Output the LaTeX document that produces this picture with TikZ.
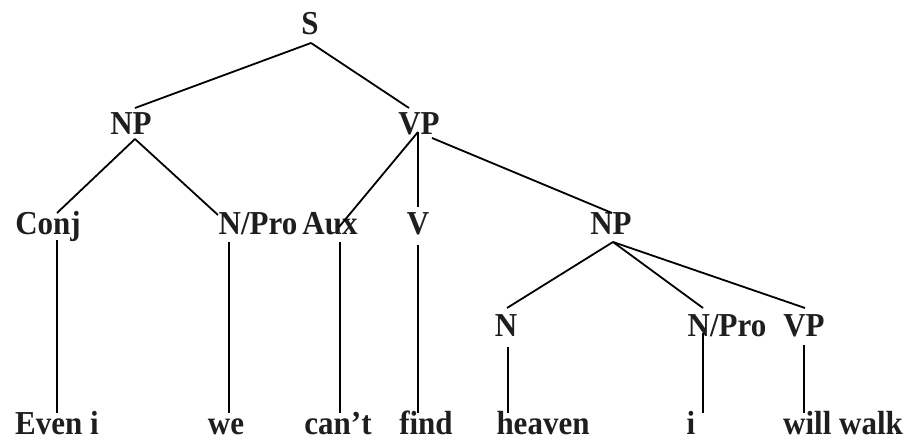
\documentclass[tikz,border=0pt]{standalone}
\usepackage{fontspec}
\setmainfont{Liberation Serif}
\usetikzlibrary{calc}
\definecolor{ink}{HTML}{1E1E1E}
\begin{document}
\begin{tikzpicture}[x=1pt,y=-1pt,
  lbl/.style={anchor=base, inner sep=0pt, outer sep=0pt, text=ink,
    yscale=1.08, transform shape,
    font=\fontsize{31}{31}\selectfont\bfseries},
  edge/.style={draw=black, line width=1.8pt}]
\useasboundingbox (0,0) rectangle (911,443);
% labels
\node[lbl] (S)     at (310,35)  {S};
\node[lbl] (NPa)   at (131,135) {NP};
\node[lbl] (VPa)   at (419,135) {VP};
\node[lbl] (Conj)  at (48,235)  {Conj};
\node[lbl] (NProa) at (258,235) {N/Pro};
\node[lbl] (Aux)   at (330,235) {Aux};
\node[lbl] (V)     at (418,235) {V};
\node[lbl] (NPb)   at (611,235) {NP};
\node[lbl] (N)     at (506,337) {N};
\node[lbl] (NProb) at (727,337) {N/Pro};
\node[lbl] (VPb)   at (804,337) {VP};
% words
\node[lbl] (w1) at (57,435)  {Even i};
\node[lbl] (w2) at (226,435) {we};
\node[lbl] (w3) at (338,435) {can’t};
\node[lbl] (w4) at (426,435) {find};
\node[lbl] (w5) at (543,435) {heaven};
\node[lbl] (w6) at (691,435) {i};
\node[lbl] (w7) at (843,435) {will walk};
% branches
\draw[edge] ($(S.base)+(1,8)$) -- ($(NPa.base)+(4,-27)$);
\draw[edge] ($(S.base)+(1,8)$) -- ($(VPa.base)+(-10,-27)$);
\draw[edge] ($(NPa.base)+(4,4)$) -- ($(Conj.base)+(9,-22)$);
\draw[edge] ($(NPa.base)+(4,4)$) -- ($(NProa.base)+(-40,-20)$);
\draw[edge] ($(VPa.base)+(-1,-3)$) -- ($(Aux.base)+(9,-8)$);
\draw[edge] ($(VPa.base)+(-1,-3)$) -- ($(V.base)+(0,-28)$);
\draw[edge] ($(VPa.base)+(13,3)$) -- ($(NPb.base)+(1,-22)$);
\draw[edge] ($(NPb.base)+(2,7)$) -- ($(N.base)+(1,-29)$);
\draw[edge] ($(NPb.base)+(2,7)$) -- ($(NProb.base)+(-24,-29)$);
\draw[edge] ($(NPb.base)+(2,7)$) -- ($(VPb.base)+(1,-29)$);
% leaves
\draw[edge] ($(Conj.base)+(9,5)$) -- ($(w1.base)+(0,-22)$);
\draw[edge] ($(NProa.base)+(-29,7)$) -- ($(w2.base)+(3,-22)$);
\draw[edge] ($(Aux.base)+(10,7)$) -- ($(w3.base)+(2,-22)$);
\draw[edge] ($(V.base)+(0,10)$) -- ($(w4.base)+(-8,-22)$);
\draw[edge] ($(N.base)+(2,10)$) -- ($(w5.base)+(-35,-22)$);
\draw[edge] ($(NProb.base)+(-24,-4)$) -- ($(w6.base)+(12,-22)$);
\draw[edge] ($(VPb.base)+(0,8)$) -- ($(w7.base)+(-39,-22)$);
\end{tikzpicture}
\end{document}
